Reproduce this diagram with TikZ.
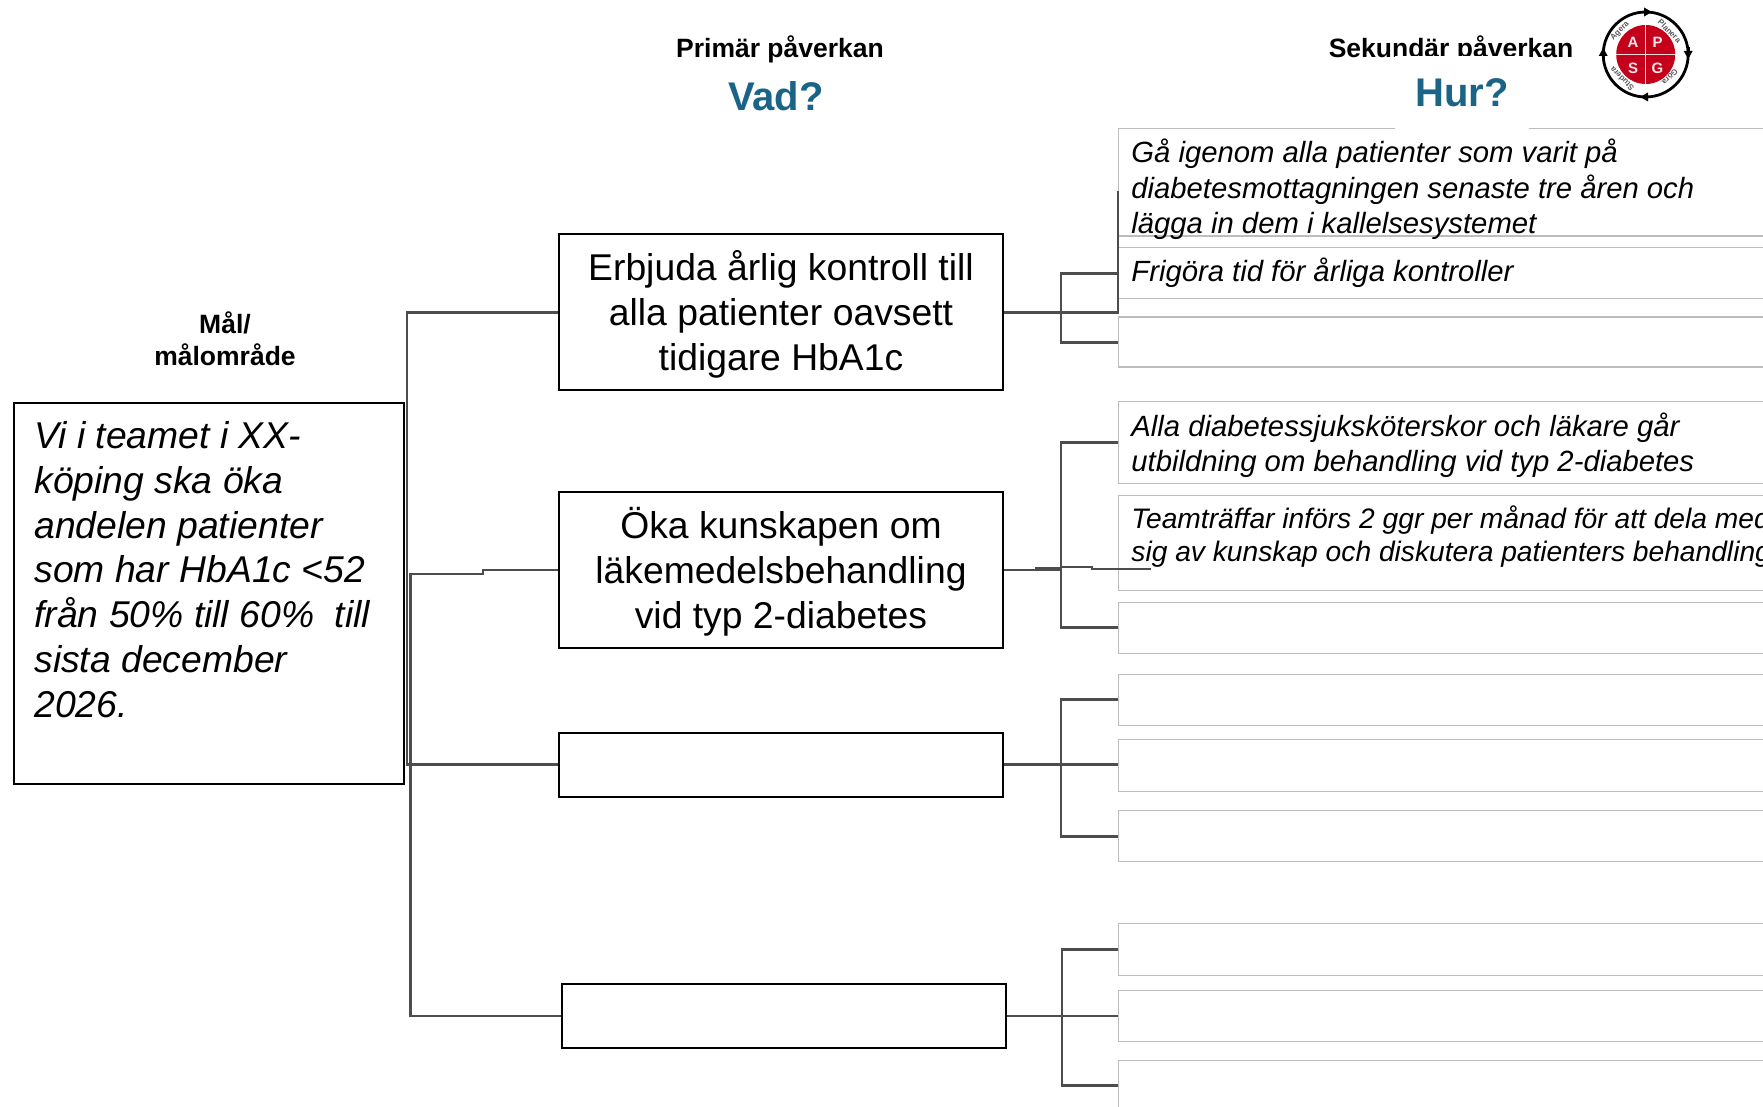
\documentclass[tikz,border=0pt]{standalone}
\usepackage{fontspec}
\setmainfont{Liberation Sans}
\usetikzlibrary{arrows.meta}
\definecolor{conn}{HTML}{4D4D4D}
\definecolor{hdr}{HTML}{1A6487}
\definecolor{apsg}{HTML}{C4001A}
\definecolor{rgrey}{HTML}{BDBDBD}
\tikzset{
  x=0.5pt,y=-0.5pt,
  bx/.style={draw=black,line width=1pt,anchor=north west,inner sep=0pt},
  bxtext/.style={inner sep=0pt,align=center,font=\fontsize{18.65}{22.4}\selectfont},
  rbox/.style={draw=rgrey,line width=0.7pt,anchor=north west,inner sep=0pt,minimum width=360pt},
  rtext/.style={anchor=west,inner sep=0pt,align=left},
  rthree/.style={rtext,font=\fontsize{14.63}{17.7}\itshape\selectfont},
  conn/.style={draw=conn,line width=1.4pt},
  head/.style={inner sep=0pt,font=\fontsize{13.25}{15.8}\bfseries\selectfont,align=center},
  big/.style={inner sep=0pt,text=hdr,font=\fontsize{20}{24}\bfseries\selectfont},
  ringtext/.style={inner sep=0pt,text=black!65,font=\fontsize{4}{4.5}\bfseries\selectfont},
  letter/.style={inner sep=0pt,text=white!90!apsg,font=\fontsize{7.5}{8}\bfseries\selectfont},
  ringtip/.style={-{Triangle[length=4pt,width=4.2pt]},line width=1.4pt}
}
\begin{document}
\begin{tikzpicture}
\useasboundingbox (0,0) rectangle (1763,1107);
\clip (0,0) rectangle (1763,1107);

% headings
\node[head] (h1) at (780,49) {Primär påverkan};
\node[big] (h2) at (776,96) {Vad?};
\node[head] (h3) at (1451,49) {Sekundär påverkan};
\node[head] (h4) at (225,339) {Mål/\\målområde};

% right boxes
\node[rbox,minimum height=53.7pt] (r1) at (1118,128) {};
\node[rbox,minimum height=25.5pt] (r2) at (1118,247) {};
\node[rbox,minimum height=25pt] (r3) at (1118,316.5) {};
\node[rbox,minimum height=41pt] (r4) at (1118,401) {};
\node[rbox,minimum height=47.5pt] (r5) at (1118,494.5) {};
\node[rbox,minimum height=25.5pt] (r6) at (1118,601.5) {};
\node[rbox,minimum height=25.5pt] (r7) at (1118,673.5) {};
\node[rbox,minimum height=26pt] (r8) at (1118,739) {};
\node[rbox,minimum height=25.5pt] (r9) at (1118,810) {};
\node[rbox,minimum height=26pt] (r10) at (1118,922.5) {};
\node[rbox,minimum height=25.5pt] (r11) at (1118,989.5) {};
\node[rbox,minimum height=25pt] (r12) at (1118,1059.5) {};

% Hur? sits on a white patch that hides part of the line above and below it
\node[fill=white,inner sep=0pt,minimum width=67pt,minimum height=36.5pt,text=hdr,font=\fontsize{20}{24}\bfseries\selectfont] (h5) at (1462,92.5) {Hur?};

% left and middle boxes
\node[bx,minimum width=195pt,minimum height=190.5pt] (goal) at (13,402) {};
\node[anchor=north west,inner sep=0pt,align=left,font=\fontsize{18.65}{22.4}\itshape\selectfont] (goaltext) at (34,421) {Vi i teamet i XX-\\köping ska öka\\andelen patienter\\som har HbA1c <52\\från 50\% till 60\%~~till\\sista december\\2026.};
\node[bx,minimum width=222pt,minimum height=78pt] (a) at (558,233.5) {};
\node[bx,minimum width=222pt,minimum height=78pt] (b) at (558,491) {};
\node[bx,minimum width=222pt,minimum height=32pt] (c) at (558,731.5) {};
\node[bx,minimum width=222pt,minimum height=32pt] (d) at (560.5,983) {};
\node[bxtext] (atext) at ([yshift=-1pt]a.center) {Erbjuda årlig kontroll till\\alla patienter oavsett\\tidigare HbA1c};
\node[bxtext] (btext) at ([yshift=-1pt]b.center) {Öka kunskapen om\\läkemedelsbehandling\\vid typ 2-diabetes};

% texts of right boxes
\node[rthree] (t1) at (1131,189.5) {Gå igenom alla patienter som varit på\\diabetesmottagningen senaste tre åren och\\lägga in dem i kallelsesystemet};
\node[rthree] (t2) at (1131,272.5) {Frigöra tid för årliga kontroller};
\node[rthree] (t4) at (1131,445) {Alla diabetessjuksköterskor och läkare går\\utbildning om behandling vid typ 2-diabetes};
\node[rthree,font=\fontsize{14.1}{16.9}\itshape\selectfont] (t5) at (1131,536.5) {Teamträffar införs 2 ggr per månad för att dela med\\sig av kunskap och diskutera patienters behandling};

% junctions and free ends
\coordinate (tx1) at (407,0);
\coordinate (tx2) at (410.5,0);
\coordinate (bx1) at (1061,0);
\coordinate (stepL) at (483,574);
\coordinate (stepR) at (483,569);
\coordinate (r1end) at (1118,191);
\coordinate (j5a) at (1092,567);
\coordinate (j5b) at (1092,568.5);
\coordinate (r5end) at (1151,568.5);

% left tree
\draw[conn] (a.west) -- (a.west -| tx1) -- (c.west -| tx1) -- (c.west);
\draw[conn] (b.west) -- (b.west -| stepR) -- (stepL) -- (stepL -| tx2) -- (d.west -| tx2) -- (d.west);

% bracket A
\draw[conn] (a.east) -- (a.east -| r1end) -- (r1end);
\draw[conn] (r2.west) -| (a.east -| bx1) |- (r3.west);
% bracket B
\draw[conn] (b.east) -- (b.east -| bx1);
\draw[conn,line width=1.9pt] (1035,568.5) -- (1061,568.5);
\draw[conn,line width=1pt] (1061,567) -- (j5a) -- (j5b) -- (r5end);
\draw[conn] (r4.west) -| (b.east -| bx1) |- (r6.west);
% bracket C
\draw[conn] (c.east) -- (c.east -| r8.west);
\draw[conn] (r7.west) -| (c.east -| bx1) |- (r9.west);
% bracket D
\draw[conn] (d.east) -- (d.east -| r11.west);
\draw[conn] (r10.west) -| ([xshift=0.5pt]d.east -| bx1) |- (r12.west);

% logo
\coordinate (logo) at (1645.7,54.5);
\fill[apsg] (logo) circle (29.5);
\draw[white!85!apsg,line width=0.6pt] (1645.7,25) -- (1645.7,84) (1616.2,54.5) -- (1675.2,54.5);
\draw[black,line width=1.4pt] (logo) circle (42.5);
\draw[ringtip] (1640,12) -- (1652,12);
\draw[ringtip] (1688.2,47) -- (1688.2,59);
\draw[ringtip] (1651,97) -- (1640,97);
\draw[ringtip] (1603.2,60) -- (1603.2,48);
\node[letter] (lA) at (1633,42) {A};
\node[letter] (lP) at (1657.5,42) {P};
\node[letter] (lS) at (1633,68) {S};
\node[letter] (lG) at (1657.5,68) {G};
\node[ringtext,rotate=45] (rA) at (1620,31) {Agera};
\node[ringtext,rotate=-45] (rP) at (1669.5,31) {Planera};
\node[ringtext,rotate=225] (rG) at (1670,77) {Göra};
\node[ringtext,rotate=135] (rS) at (1622,79) {Studera};
\end{tikzpicture}
\end{document}
